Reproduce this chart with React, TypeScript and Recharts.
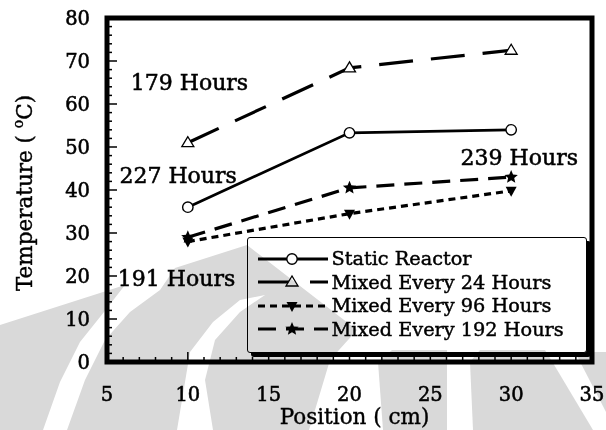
import React from 'react';
import { LineChart, Line, XAxis, YAxis, ReferenceArea, ReferenceDot, Legend } from 'recharts';

// readings from the figure, positions in cm, temperature in °C
const positions = [10, 20, 30];
const staticReactor = [36, 53.3, 54];
const mixed24 = [51, 68.4, 72.5];
const mixed96 = [28, 34.5, 39.8];
const mixed192 = [29, 40.5, 43];

const xMajorTicks = [5, 10, 15, 20, 25, 30, 35];
const yMajorTicks = [0, 10, 20, 30, 40, 50, 60, 70, 80];
const xTicks = Array.from({ length: 31 }, (_, i) => 5 + i);
const yTicks = Array.from({ length: 41 }, (_, i) => i * 2);

const annotations = [
  { x: 10.1, y: 65, text: '179 Hours' },
  { x: 9.4, y: 43.5, text: '227 Hours' },
  { x: 9.3, y: 19.5, text: '191 Hours' },
  { x: 30.5, y: 47.7, text: '239 Hours' },
];

const FONT = '"DejaVu Serif", serif';

type Shape = 'circle' | 'triangle' | 'down' | 'star';

const series: { key: string; name: string; dash?: string; width: number; shape: Shape }[] = [
  { key: 'st', name: 'Static Reactor', width: 2.8, shape: 'circle' },
  { key: 'm24', name: 'Mixed Every 24 Hours', dash: '34 18', width: 3.2, shape: 'triangle' },
  { key: 'm96', name: 'Mixed Every 96 Hours', dash: '7 5', width: 3.2, shape: 'down' },
  { key: 'm192', name: 'Mixed Every 192 Hours', dash: '18 10', width: 3.2, shape: 'star' },
];

const data = positions.map((pos, i) => ({
  pos,
  st: staticReactor[i],
  m24: mixed24[i],
  m96: mixed96[i],
  m192: mixed192[i],
}));

// scanned-in watermark behind the figure, page pixels
const watermark = [
  '0,325 125,285 104,312 80,342 60,382 43,430 0,430',
  '67,430 85,380 105,340 130,312 160,290 175,268 247,245 357,330 330,360 309,430 213,430 205,380 215,340 240,312 265,295 240,300 213,322 190,352 177,430',
  '383,430 378,362 392,350 447,350 447,430',
  '473,430 470,362 480,350 545,350 553,363 593,430',
  '575,352 606,352 606,412',
];

function Marker({ shape, cx, cy }: { shape: Shape; cx: number; cy: number }) {
  if (shape === 'circle') {
    return <circle cx={cx} cy={cy} r={5.2} fill="#fff" stroke="#000" strokeWidth={1.4} />;
  }
  if (shape === 'triangle') {
    const p = `${cx},${cy - 6} ${cx - 6},${cy + 4} ${cx + 6},${cy + 4}`;
    return <polygon points={p} fill="#fff" stroke="#000" strokeWidth={1.3} />;
  }
  if (shape === 'down') {
    const p = `${cx - 5.5},${cy - 4} ${cx + 5.5},${cy - 4} ${cx},${cy + 6}`;
    return <polygon points={p} fill="#000" />;
  }
  const pts: string[] = [];
  for (let k = 0; k < 10; k++) {
    const r = k % 2 === 0 ? 7 : 3.2;
    const a = -Math.PI / 2 + (k * Math.PI) / 5;
    pts.push(`${cx + r * Math.cos(a)},${cy + r * Math.sin(a)}`);
  }
  return <polygon points={pts.join(' ')} fill="#000" />;
}

const dotFor = (shape: Shape) => (props: any) => (
  <Marker key={`${shape}-${props.index}`} shape={shape} cx={props.cx} cy={props.cy} />
);

const textProps = { fontFamily: FONT, fill: '#000', stroke: '#000', strokeWidth: 0.55 };

const makeTick = (side: 'bottom' | 'left' | 'top' | 'right', majors: number[]) => (props: any) => {
  const { x, y, payload } = props;
  const major = majors.includes(payload.value);
  const len = major ? 10 : 5;
  let x2 = x;
  let y2 = y;
  if (side === 'bottom') y2 = y - len;
  if (side === 'top') y2 = y + len;
  if (side === 'left') x2 = x + len;
  if (side === 'right') x2 = x - len;
  return (
    <g>
      <line x1={x} y1={y} x2={x2} y2={y2} stroke="#000" strokeWidth={1.5} />
      {major && side === 'bottom' && (
        <text x={x} y={y + 39} textAnchor="middle" fontSize={19.5} {...textProps}>
          {payload.value}
        </text>
      )}
      {major && side === 'left' && (
        <text x={x - 17} y={y + 7} textAnchor="end" fontSize={19.5} {...textProps}>
          {payload.value}
        </text>
      )}
    </g>
  );
};

const YTitle = (props: any) => {
  const vb = props.viewBox;
  const cx = vb.x + 26;
  const cy = vb.y + vb.height / 2 + 3;
  return (
    <text x={cx} y={cy} transform={`rotate(-90 ${cx} ${cy})`} textAnchor="middle" dominantBaseline="middle"
      fontSize={21.5} {...textProps} strokeWidth={0.4}>
      <tspan>Temperature ( </tspan>
      <tspan dy={-7} fontSize={14}>o</tspan>
      <tspan dy={7}>C)</tspan>
    </text>
  );
};

const XTitle = (props: any) => {
  const vb = props.viewBox;
  return (
    <text x={vb.x + vb.width / 2 + 5} y={vb.y + 62} textAnchor="middle" fontSize={21.5} {...textProps} strokeWidth={0.4}>
      Position ( cm)
    </text>
  );
};

const LegendBox = () => (
  <div
    style={{
      width: 340,
      height: 116,
      boxSizing: 'border-box',
      background: '#fff',
      border: '1.5px solid #000',
      borderRadius: 3,
      boxShadow: '4px 4px 0 #000',
      padding: '9px 0 0 9.5px',
    }}
  >
    {series.map((s) => (
      <div key={s.key} style={{ display: 'flex', alignItems: 'center', height: 23.5 }}>
        <svg width={72} height={20} style={{ overflow: 'visible' }}>
          <line x1={0} y1={10} x2={70} y2={10} stroke="#000" strokeWidth={2.8} strokeDasharray={s.dash} />
          <Marker shape={s.shape} cx={34} cy={10} />
        </svg>
        <span style={{ fontFamily: FONT, fontSize: 19.3, marginLeft: 2, lineHeight: 1, whiteSpace: 'nowrap', WebkitTextStroke: '0.45px #000' }}>
          {s.name}
        </span>
      </div>
    ))}
  </div>
);

export default function App() {
  return (
    <div style={{ position: 'absolute', left: 0, top: 0, width: 606, height: 430, background: '#fff', overflow: 'hidden' }}>
      <LineChart width={606} height={430} data={data} margin={{ top: 18, right: 14, bottom: 0, left: 0 }}>
        <XAxis dataKey="pos" type="number" domain={[5, 35]} ticks={xTicks} interval={0} height={68}
          axisLine={false} tickLine={false} tickSize={0} tickMargin={0} allowDataOverflow
          tick={makeTick('bottom', xMajorTicks)} label={<XTitle />} />
        <XAxis xAxisId="top" orientation="top" type="number" domain={[5, 35]} ticks={xTicks} interval={0} height={0}
          axisLine={false} tickLine={false} tickSize={0} tickMargin={0} allowDataOverflow
          tick={makeTick('top', xMajorTicks)} />
        <YAxis type="number" domain={[0, 80]} ticks={yTicks} interval={0} width={107}
          axisLine={false} tickLine={false} tickSize={0} tickMargin={0} allowDataOverflow
          tick={makeTick('left', yMajorTicks)} label={<YTitle />} />
        <YAxis yAxisId="right" orientation="right" type="number" domain={[0, 80]} ticks={yTicks} interval={0} width={0}
          axisLine={false} tickLine={false} tickSize={0} tickMargin={0} allowDataOverflow
          tick={makeTick('right', yMajorTicks)} />
        <ReferenceArea x1={5} x2={35} y1={0} y2={80} fill="none" stroke="#000" strokeWidth={5} ifOverflow="visible" />
        {series.map((s) => (
          <Line key={s.key} dataKey={s.key} name={s.name} type="linear" stroke="#000" strokeWidth={s.width}
            strokeDasharray={s.dash} dot={dotFor(s.shape)} activeDot={false} isAnimationActive={false} />
        ))}
        {annotations.map((a) => (
          <ReferenceDot key={a.text} x={a.x} y={a.y} r={0} fill="none" stroke="none"
            label={{ value: a.text, position: 'center', fontSize: 22, ...textProps }} />
        ))}
        <Legend layout="vertical" align="center" verticalAlign="middle" content={<LegendBox />}
          wrapperStyle={{ left: 247, top: 237, width: 344, height: 120 }} />
      </LineChart>
      <svg width={606} height={430}
        style={{ position: 'absolute', left: 0, top: 0, pointerEvents: 'none', mixBlendMode: 'multiply' }}>
        {watermark.map((p, i) => (
          <polygon key={i} points={p} fill="#d9d9d9" />
        ))}
      </svg>
    </div>
  );
}
